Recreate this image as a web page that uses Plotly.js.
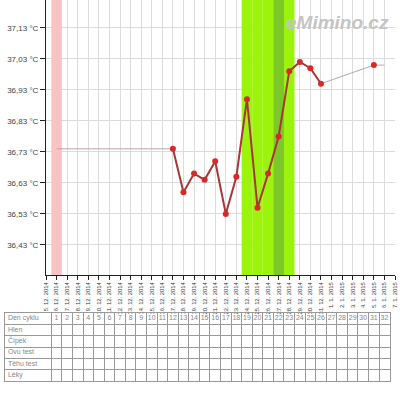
<!DOCTYPE html>
<html>
<head>
<meta charset="utf-8">
<script src="https://cdn.plot.ly/plotly-3.0.1.min.js"></script>
<style>
  html, body { margin: 0; padding: 0; background: #fff; }
  #chart { width: 400px; height: 400px; }
</style>
</head>
<body>
<div id="chart"></div>
<script>
// x axis days
const dateLabels = [
  "5. 12. 2014", "6. 12. 2014", "7. 12. 2014", "8. 12. 2014", "9. 12. 2014",
  "10. 12. 2014", "11. 12. 2014", "12. 12. 2014", "13. 12. 2014", "14. 12. 2014",
  "15. 12. 2014", "16. 12. 2014", "17. 12. 2014", "18. 12. 2014", "19. 12. 2014",
  "20. 12. 2014", "21. 12. 2014", "22. 12. 2014", "23. 12. 2014", "24. 12. 2014",
  "25. 12. 2014", "26. 12. 2014", "27. 12. 2014", "28. 12. 2014", "29. 12. 2014",
  "30. 12. 2014", "31. 12. 2014", "1. 1. 2015", "2. 1. 2015", "3. 1. 2015",
  "4. 1. 2015", "5. 1. 2015", "6. 1. 2015", "7. 1. 2015"
];

// measured temperatures
const mainDates = [
  "17. 12. 2014", "18. 12. 2014", "19. 12. 2014", "20. 12. 2014", "21. 12. 2014",
  "22. 12. 2014", "23. 12. 2014", "24. 12. 2014", "25. 12. 2014", "26. 12. 2014",
  "27. 12. 2014", "28. 12. 2014", "29. 12. 2014", "30. 12. 2014", "31. 12. 2014"
];
const mainTemps = [36.74, 36.60, 36.66, 36.64, 36.70, 36.53, 36.65, 36.90, 36.55, 36.66, 36.78, 36.99, 37.02, 37.00, 36.95];

const lateDates = ["5. 1. 2015"];
const lateTemps = [37.01];

// thin connecting lines across the gaps
const gapDates = ["6. 12. 2014", "17. 12. 2014", null, "31. 12. 2014", "5. 1. 2015", "6. 1. 2015"];
const gapTemps = [36.74, 36.74, null, 36.95, 37.01, 37.01];

const yTicks = [36.43, 36.53, 36.63, 36.73, 36.83, 36.93, 37.03, 37.13];
const yRange = [36.333, 37.220];

// bands: menstruation, fertile days, ovulation
const periodDays = ["6. 12. 2014"];
const fertileDays = ["24. 12. 2014", "25. 12. 2014", "26. 12. 2014", "27. 12. 2014", "28. 12. 2014"];
const ovulationDays = ["27. 12. 2014"];

// table below the chart
const rowLabels = ["Den cyklu", "Hlen", "Čípek", "Ovu test", "Těhu test", "Léky"];
const cycleDays = [];
for (let d = 1; d <= 32; d++) cycleDays.push(d);

const font = "Liberation Sans, Arial, sans-serif";

// main plot area in pixels (page is 400x400, no margins)
const px0 = 46, px1 = 395;
const pxPerDay = (px1 - px0) / (dateLabels.length - 1);
const tableLeft = -3.9, tableRight = 32.5;

function bandShapes(days, color) {
  return days.map(d => {
    let i = dateLabels.indexOf(d);
    return {
      type: "rect", xref: "x", yref: "y", layer: "between",
      x0: i - 0.5, x1: i + 0.5, y0: yRange[0], y1: yRange[1],
      fillcolor: color, line: { width: 0 }
    };
  });
}

let traces = [
  {
    x: gapDates, y: gapTemps, mode: "lines", connectgaps: false,
    line: { color: "#bfa4a4", width: 1 }, hoverinfo: "skip"
  },
  {
    x: mainDates, y: mainTemps, mode: "lines+markers",
    line: { color: "#a83636", width: 2 },
    marker: { color: "#d42a2a", size: 6 }
  },
  {
    x: lateDates, y: lateTemps, mode: "markers",
    marker: { color: "#d42a2a", size: 6 }
  },
  {
    x: rowLabels.map(() => tableLeft + 0.3), y: rowLabels.map((r, i) => i + 0.5),
    text: rowLabels, mode: "text", textposition: "middle right",
    textfont: { family: font, size: 7, color: "#888" },
    xaxis: "x2", yaxis: "y2", hoverinfo: "skip"
  },
  {
    x: cycleDays, y: cycleDays.map(() => 0.5), text: cycleDays.map(String),
    mode: "text", textposition: "middle center",
    textfont: { family: font, size: 7, color: "#888" },
    xaxis: "x2", yaxis: "y2", hoverinfo: "skip"
  }
];

let shapes = []
  .concat(bandShapes(periodDays, "#f9c3c3"))
  .concat(bandShapes(fertileDays, "#9cf40c"))
  .concat(bandShapes(ovulationDays, "#7cc828"));

let cellEdges = [];
for (let d = 0; d < cycleDays.length; d++) cellEdges.push(d + 0.5);

let layout = {
  width: 400, height: 400,
  margin: { l: 0, r: 0, t: 0, b: 0 },
  showlegend: false,
  paper_bgcolor: "#fff", plot_bgcolor: "#fff",
  font: { family: font, size: 8, color: "#444" },
  xaxis: {
    type: "category", categoryarray: dateLabels,
    domain: [px0 / 400, px1 / 400], range: [0, dateLabels.length - 1],
    tickangle: -90, tickfont: { size: 5.8, color: "#333" },
    ticks: "outside", ticklen: 4, tickcolor: "#222",
    showgrid: true, gridcolor: "#dcdcdc",
    showline: true, linecolor: "#222", linewidth: 1, zeroline: false
  },
  yaxis: {
    domain: [0.3125, 1], range: yRange,
    tickvals: yTicks, ticktext: yTicks.map(v => v.toFixed(2).replace(".", ",") + " °C"),
    tickfont: { size: 8, color: "#444" },
    ticks: "outside", ticklen: 5, tickcolor: "#222",
    showgrid: true, gridcolor: "#dcdcdc",
    showline: true, linecolor: "#222", linewidth: 1, zeroline: false
  },
  xaxis2: {
    anchor: "y2",
    domain: [(px0 + tableLeft * pxPerDay) / 400, (px0 + tableRight * pxPerDay) / 400],
    range: [tableLeft, tableRight],
    tickvals: cellEdges, showticklabels: false, ticks: "",
    showgrid: true, gridcolor: "#999",
    showline: true, mirror: true, linecolor: "#999", zeroline: false
  },
  yaxis2: {
    anchor: "x2", domain: [0.0475, 0.2175], range: [6, 0],
    tickvals: [1, 2, 3, 4, 5], showticklabels: false, ticks: "",
    showgrid: true, gridcolor: "#999",
    showline: true, mirror: true, linecolor: "#999", zeroline: false
  },
  shapes: shapes,
  annotations: [{
    xref: "paper", yref: "paper", x: 0.843, y: 0.945,
    xanchor: "center", yanchor: "middle",
    text: "<b><i>eMimino.cz</i></b>", showarrow: false,
    font: { family: font, size: 19, color: "#c4c4c4" }
  }]
};

Plotly.newPlot("chart", traces, layout, { staticPlot: true });
</script>
</body>
</html>
